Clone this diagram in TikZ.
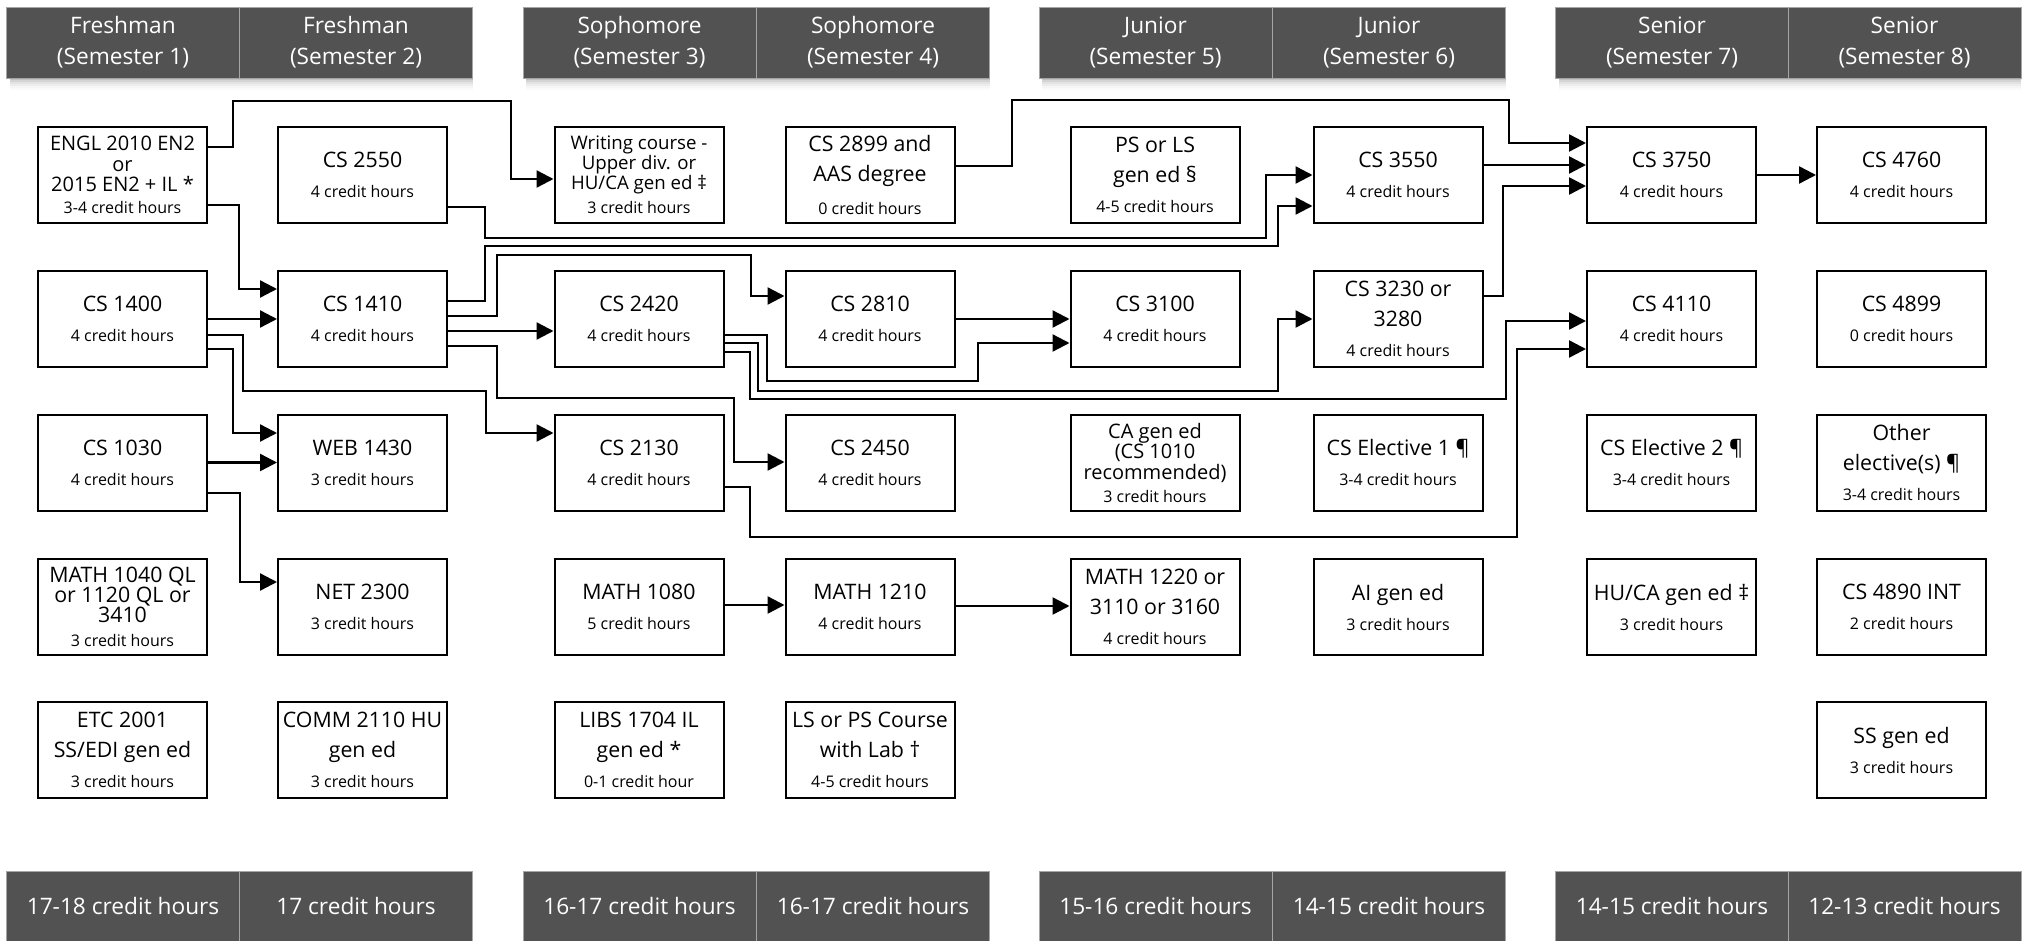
\documentclass[tikz,border=0pt]{standalone}
\usepackage{fontspec}
\setmainfont{Open Sans}
\usepackage{tikz}
\usetikzlibrary{arrows.meta}
\definecolor{headgray}{RGB}{82,82,82}
\definecolor{rulegray}{RGB}{165,165,165}
\newcommand{\hrs}[1]{{\fontsize{12}{14}\selectfont #1}}

\begin{document}
\begin{tikzpicture}[x=0.75pt,y=0.75pt,yscale=-1,xscale=1,
  course/.style={draw, line width=1.5pt, minimum width=126.75pt, minimum height=72pt, inner sep=0pt, align=center, font=\fontsize{16}{22.5}\selectfont},
  dense/.style={course, font=\fontsize{15}{15.5}\selectfont},
  semhead/.style={fill=headgray, draw=rulegray, line width=0.6pt, text=white, minimum width=174.75pt, minimum height=53.25pt, inner sep=0pt, align=center, font=\fontsize{17}{23}\selectfont},
  semfoot/.style={semhead, minimum height=52.5pt},
  link/.style={line width=1.8pt, -{Triangle[length=12.75pt,width=12.75pt]}}
]
\useasboundingbox (0,0) rectangle (2023,941);

%Shadow under the header bars
\foreach \xa/\xb in {6.5/472.5,523/990,1039/1506,1556/2021}
  \foreach \k/\c in {0/24,1/17,2/11,3/7,4/4,5/2}
    \fill[black!\c] (\xa+3,78+2*\k) rectangle (\xb,80+2*\k);

%Header cells
\node[semhead] (hd1) at (123,42.5) {Freshman\\(Semester 1)};
\node[semhead] (hd2) at (356,42.5) {Freshman\\(Semester 2)};
\node[semhead] (hd3) at (639.5,42.5) {Sophomore\\(Semester 3)};
\node[semhead] (hd4) at (873,42.5) {Sophomore\\(Semester 4)};
\node[semhead] (hd5) at (1155.5,42.5) {Junior\\(Semester 5)};
\node[semhead] (hd6) at (1389,42.5) {Junior\\(Semester 6)};
\node[semhead] (hd7) at (1672,42.5) {Senior\\(Semester 7)};
\node[semhead] (hd8) at (1904.5,42.5) {Senior\\(Semester 8)};

%Footer cells
\node[semfoot] (ft1) at (123,906) {17-18 credit hours};
\node[semfoot] (ft2) at (356,906) {17 credit hours};
\node[semfoot] (ft3) at (639.5,906) {16-17 credit hours};
\node[semfoot] (ft4) at (873,906) {16-17 credit hours};
\node[semfoot] (ft5) at (1155.5,906) {15-16 credit hours};
\node[semfoot] (ft6) at (1389,906) {14-15 credit hours};
\node[semfoot] (ft7) at (1672,906) {14-15 credit hours};
\node[semfoot] (ft8) at (1904.5,906) {12-13 credit hours};

%Course boxes: row 1
\node[dense] (engl) at (122.5,175) {ENGL 2010 EN2\\or\\2015 EN2 + IL *\\[1pt]\hrs{3-4 credit hours}};
\node[course] (cs2550) at (362.5,175) {CS 2550\\\hrs{4 credit hours}};
\node[dense, font=\fontsize{14}{15}\selectfont] (writing) at (639,175) {Writing course -\\Upper div. or\\HU/CA gen ed ‡\\[3pt]\hrs{3 credit hours}};
\node[course] (cs2899) at (870,175) {CS 2899 and\\AAS degree\\[2pt]\hrs{0 credit hours}};
\node[course] (psls) at (1155,175) {PS or LS\\gen ed §\\\hrs{4-5 credit hours}};
\node[course] (cs3550) at (1398,175) {CS 3550\\\hrs{4 credit hours}};
\node[course] (cs3750) at (1671.5,175) {CS 3750\\\hrs{4 credit hours}};
\node[course] (cs4760) at (1901.5,175) {CS 4760\\\hrs{4 credit hours}};

%Course boxes: row 2
\node[course] (cs1400) at (122.5,319) {CS 1400\\\hrs{4 credit hours}};
\node[course] (cs1410) at (362.5,319) {CS 1410\\\hrs{4 credit hours}};
\node[course] (cs2420) at (639,319) {CS 2420\\\hrs{4 credit hours}};
\node[course] (cs2810) at (870,319) {CS 2810\\\hrs{4 credit hours}};
\node[course] (cs3100) at (1155,319) {CS 3100\\\hrs{4 credit hours}};
\node[course] (cs3230) at (1398,319) {CS 3230 or\\3280\\\hrs{4 credit hours}};
\node[course] (cs4110) at (1671.5,319) {CS 4110\\\hrs{4 credit hours}};
\node[course] (cs4899) at (1901.5,319) {CS 4899\\\hrs{0 credit hours}};

%Course boxes: row 3
\node[course] (cs1030) at (122.5,462.5) {CS 1030\\\hrs{4 credit hours}};
\node[course] (web1430) at (362.5,462.5) {WEB 1430\\\hrs{3 credit hours}};
\node[course] (cs2130) at (639,462.5) {CS 2130\\\hrs{4 credit hours}};
\node[course] (cs2450) at (870,462.5) {CS 2450\\\hrs{4 credit hours}};
\node[dense] (cagened) at (1155,462.5) {CA gen ed\\(CS 1010\\recommended)\\[1.5pt]\hrs{3 credit hours}};
\node[course] (elect1) at (1398,462.5) {CS Elective 1 ¶\\\hrs{3-4 credit hours}};
\node[course] (elect2) at (1671.5,462.5) {CS Elective 2 ¶\\\hrs{3-4 credit hours}};
\node[course] (otherel) at (1901.5,462.5) {Other\\elective(s) ¶\\\hrs{3-4 credit hours}};

%Course boxes: row 4
\node[dense, font=\fontsize{16}{15}\selectfont] (math1040) at (122.5,607) {MATH 1040 QL\\or 1120 QL or\\3410\\[3.5pt]\hrs{3 credit hours}};
\node[course] (net2300) at (362.5,607) {NET 2300\\\hrs{3 credit hours}};
\node[course] (math1080) at (639,607) {MATH 1080\\\hrs{5 credit hours}};
\node[course] (math1210) at (870,607) {MATH 1210\\\hrs{4 credit hours}};
\node[course] (math1220) at (1155,607) {MATH 1220 or\\3110 or 3160\\\hrs{4 credit hours}};
\node[course] (aigened) at (1398,607) {AI gen ed\\\hrs{3 credit hours}};
\node[course] (hucagened) at (1671.5,607) {HU/CA gen ed ‡\\\hrs{3 credit hours}};
\node[course] (cs4890) at (1901.5,607) {CS 4890 INT\\\hrs{2 credit hours}};

%Course boxes: row 5
\node[course] (etc2001) at (122.5,750) {ETC 2001\\SS/EDI gen ed\\\hrs{3 credit hours}};
\node[course] (comm2110) at (362.5,750) {COMM 2110 HU\\gen ed\\\hrs{3 credit hours}};
\node[course] (libs1704) at (639,750) {LIBS 1704 IL\\gen ed *\\\hrs{0-1 credit hour}};
\node[course] (lsps) at (870,750) {LS or PS Course\\with Lab †\\\hrs{4-5 credit hours}};
\node[course] (ssgened) at (1901.5,750) {SS gen ed\\\hrs{3 credit hours}};

%Prerequisite arrows
\draw[link] (engl.east |- 0,147) -| (233,101) -| (511,179) -- (writing.west |- 0,179);
\draw[link] (engl.east |- 0,205) -| (239,289) -- (cs1410.west |- 0,289);
\draw[link] (cs1400) -- (cs1410);
\draw[link] (cs1400.east |- 0,335) -| (243,391) -| (486,433) -- (cs2130.west |- 0,433);
\draw[link] (cs1400.east |- 0,349) -| (233,433) -- (web1430.west |- 0,433);
\draw[link] (cs1030) -- (web1430);
\draw[link] (cs1030.east |- 0,493) -| (240,582) -- (net2300.west |- 0,582);
\draw[link] (cs2550.east |- 0,207) -| (485,238) -| (1266,175) -- (cs3550.west |- 0,175);
\draw[link] (cs1410.east |- 0,301) -| (485,246) -| (1278,206) -- (cs3550.west |- 0,206);
\draw[link] (cs1410.east |- 0,316) -| (497,255) -| (751,296) -- (cs2810.west |- 0,296);
\draw[link] (cs1410.east |- 0,331) -- (cs2420.west |- 0,331);
\draw[link] (cs1410.east |- 0,346) -| (497,398) -| (734,462) -- (cs2450.west |- 0,462);
\draw[link] (cs2420.east |- 0,335) -| (767,381) -| (978,343) -- (cs3100.west |- 0,343);
\draw[link] (cs2420.east |- 0,343) -| (758,391) -| (1278,319) -- (cs3230.west |- 0,319);
\draw[link] (cs2420.east |- 0,352) -| (750,399) -| (1506,321) -- (cs4110.west |- 0,321);
\draw[link] (cs2130.east |- 0,487) -| (750,537) -| (1517,349) -- (cs4110.west |- 0,349);
\draw[link] (cs2810) -- (cs3100);
\draw[link] (cs2899.east |- 0,166) -| (1012,100) -| (1509,143) -- (cs3750.west |- 0,143);
\draw[link] (cs3550.east |- 0,165) -- (cs3750.west |- 0,165);
\draw[link] (cs3230.east |- 0,296) -| (1503,186) -- (cs3750.west |- 0,186);
\draw[link] (cs3750) -- (cs4760);
\draw[link] (math1080.east |- 0,605) -- (math1210.west |- 0,605);
\draw[link] (math1210.east |- 0,606) -- (math1220.west |- 0,606);

\end{tikzpicture}
\end{document}
